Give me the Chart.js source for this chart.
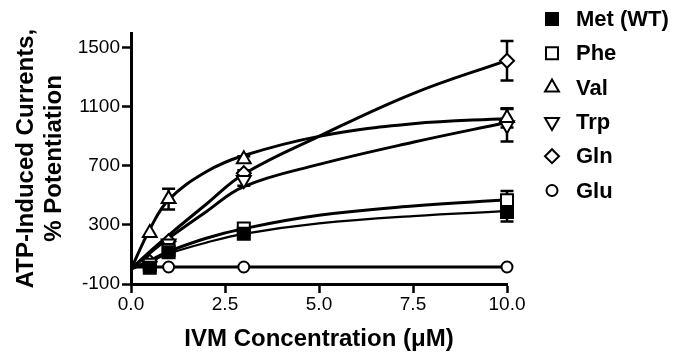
<!DOCTYPE html>
<html>
<head>
<meta charset="utf-8">
<script src="https://cdn.jsdelivr.net/npm/chart.js@4.4.1/dist/chart.umd.min.js"></script>
<style>
  html, body { margin: 0; padding: 0; background: #fff; }
  #wrap { width: 692px; height: 360px; position: relative; }
</style>
</head>
<body>
<div id="wrap"><canvas id="ivmChart"></canvas></div>
<script>
// Data
const concentrations = [0.5, 1, 3, 10]; // IVM, uM
const curveX = [0, 0.5, 1, 2, 3, 5, 7.5, 10];
const xTicks = [0, 2.5, 5, 7.5, 10];
const yTicks = [-100, 300, 700, 1100, 1500];

const names = ["Met (WT)", "Phe", "Val", "Trp", "Gln", "Glu"];

const metMean = [10, 115, 240, 388];
const metErr = [0, 0, 10, 65];
const metCurve = [0, 50, 105, 180, 240, 310, 360, 393];

const pheMean = [30, 130, 276, 468];
const pheErr = [0, 0, 15, 62];
const pheCurve = [0, 60, 120, 210, 275, 365, 428, 470];

const valMean = [245, 475, 745, 1025];
const valErr = [0, 70, 20, 65];
const valCurve = [0, 270, 470, 660, 770, 900, 985, 1021];

const trpMean = [40, 175, 605, 975];
const trpErr = [0, 20, 40, 110];
const trpCurve = [0, 110, 210, 390, 560, 710, 860, 994];

const glnMean = [50, 190, 650, 1412];
const glnErr = [0, 0, 20, 133];
const glnCurve = [0, 120, 230, 440, 645, 900, 1190, 1415];

const gluMean = [10, 15, 15, 15];
const gluErr = [0, 0, 0, 0];
const gluCurve = [15, 15, 15, 15, 15, 15, 15, 15];

const means = [metMean, pheMean, valMean, trpMean, glnMean, gluMean];
const errors = [metErr, pheErr, valErr, trpErr, glnErr, gluErr];
const curves = [metCurve, pheCurve, valCurve, trpCurve, glnCurve, gluCurve];

// Marker look for each series (same order as names)
const markers = [
  { style: "rect", radius: 8.5, rotation: 0, filled: true },
  { style: "rect", radius: 8.5, rotation: 0, filled: false },
  { style: "triangle", radius: 8, rotation: 0, filled: false },
  { style: "triangle", radius: 8, rotation: 180, filled: false },
  { style: "rectRot", radius: 7, rotation: 0, filled: false },
  { style: "circle", radius: 5.5, rotation: 0, filled: false },
];
const curveWidths = [2.2, 3, 3, 3, 3, 3];

const FONT = "'Liberation Sans', Arial, sans-serif";

const toPoints = (xs, ys) => xs.map((x, i) => ({ x: x, y: ys[i] }));

const datasets = [];
curves.forEach((c, i) => {
  datasets.push({
    label: names[i] + " fit",
    data: toPoints(curveX, c),
    showLine: true,
    borderColor: "#000",
    borderWidth: curveWidths[i],
    pointRadius: 0,
    tension: 0.4,
    order: 2,
  });
});
means.forEach((m, i) => {
  const mk = markers[i];
  datasets.push({
    label: names[i],
    data: toPoints(concentrations, m),
    errors: errors[i],
    showLine: false,
    pointStyle: mk.style,
    pointRadius: mk.radius,
    pointRotation: mk.rotation,
    pointBackgroundColor: mk.filled ? "#000" : "#fff",
    pointBorderColor: "#000",
    pointBorderWidth: 2,
    pointHoverRadius: mk.radius,
    clip: false,
    order: 1,
  });
});

// Error bars (SEM) drawn under the symbols
const errorBars = {
  id: "errorBars",
  beforeDatasetsDraw(chart) {
    const ctx = chart.ctx;
    const xs = chart.scales.x;
    const ys = chart.scales.y;
    ctx.save();
    ctx.strokeStyle = "#000";
    ctx.lineWidth = 2.5;
    chart.data.datasets.forEach((ds) => {
      if (!ds.errors) return;
      ds.data.forEach((p, j) => {
        const e = ds.errors[j];
        if (!e) return;
        const px = xs.getPixelForValue(p.x);
        const top = ys.getPixelForValue(p.y + e);
        const bot = ys.getPixelForValue(p.y - e);
        ctx.beginPath();
        ctx.moveTo(px, top);
        ctx.lineTo(px, bot);
        ctx.moveTo(px - 6.5, top);
        ctx.lineTo(px + 6.5, top);
        ctx.moveTo(px - 6.5, bot);
        ctx.lineTo(px + 6.5, bot);
        ctx.stroke();
      });
    });
    ctx.restore();
  },
};

// Symbol legend on the right
const sideLegend = {
  id: "sideLegend",
  afterDraw(chart) {
    const ctx = chart.ctx;
    ctx.save();
    names.forEach((name, i) => {
      const mk = markers[i];
      const y = 19 + i * 34.3;
      ctx.fillStyle = mk.filled ? "#000" : "#fff";
      ctx.strokeStyle = "#000";
      ctx.lineWidth = 2;
      Chart.helpers.drawPoint(
        ctx,
        { pointStyle: mk.style, rotation: mk.rotation, radius: mk.radius, borderWidth: 2 },
        552,
        y
      );
      ctx.fillStyle = "#000";
      ctx.font = "bold 22px " + FONT;
      ctx.textAlign = "left";
      ctx.textBaseline = "middle";
      ctx.fillText(name, 576, y + 1);
    });
    ctx.restore();
  },
};

new Chart(document.getElementById("ivmChart").getContext("2d"), {
  type: "scatter",
  data: { datasets: datasets },
  options: {
    responsive: true,
    maintainAspectRatio: false,
    animation: false,
    layout: { padding: { top: 33, right: 185, left: 0, bottom: 0 } },
    plugins: {
      legend: { display: false },
      tooltip: { enabled: false },
    },
    scales: {
      x: {
        type: "linear",
        min: 0,
        max: 10,
        afterBuildTicks: (axis) => {
          axis.ticks = xTicks.map((v) => ({ value: v }));
        },
        afterFit: (axis) => {
          axis.height = 76;
        },
        ticks: {
          color: "#000",
          font: { family: FONT, size: 19 },
          padding: 0,
          maxRotation: 0,
          callback: (v) => Number(v).toFixed(1),
        },
        grid: {
          display: true,
          drawOnChartArea: false,
          drawTicks: true,
          tickLength: 9,
          tickWidth: 2.5,
          color: "#000",
        },
        border: { display: true, color: "#000", width: 3 },
        title: {
          display: true,
          text: "IVM Concentration (\u03bcM)",
          color: "#000",
          font: { family: FONT, size: 24, weight: "bold", lineHeight: 1.2 },
          padding: { top: 0, bottom: 6 },
        },
      },
      y: {
        type: "linear",
        min: -100,
        max: 1600,
        afterBuildTicks: (axis) => {
          axis.ticks = yTicks.map((v) => ({ value: v }));
        },
        afterFit: (axis) => {
          axis.width = 131;
        },
        ticks: {
          color: "#000",
          font: { family: FONT, size: 19 },
          padding: 2,
          callback: (v) => String(v),
        },
        grid: {
          display: true,
          drawOnChartArea: false,
          drawTicks: true,
          tickLength: 9,
          tickWidth: 2.5,
          color: "#000",
        },
        border: { display: true, color: "#000", width: 3 },
        title: {
          display: true,
          text: ["ATP-Induced Currents,", "% Potentiation"],
          color: "#000",
          font: { family: FONT, size: 24, weight: "bold", lineHeight: 1.15 },
          padding: { top: 13, bottom: 0 },
        },
      },
    },
  },
  plugins: [errorBars, sideLegend],
});
</script>
</body>
</html>
